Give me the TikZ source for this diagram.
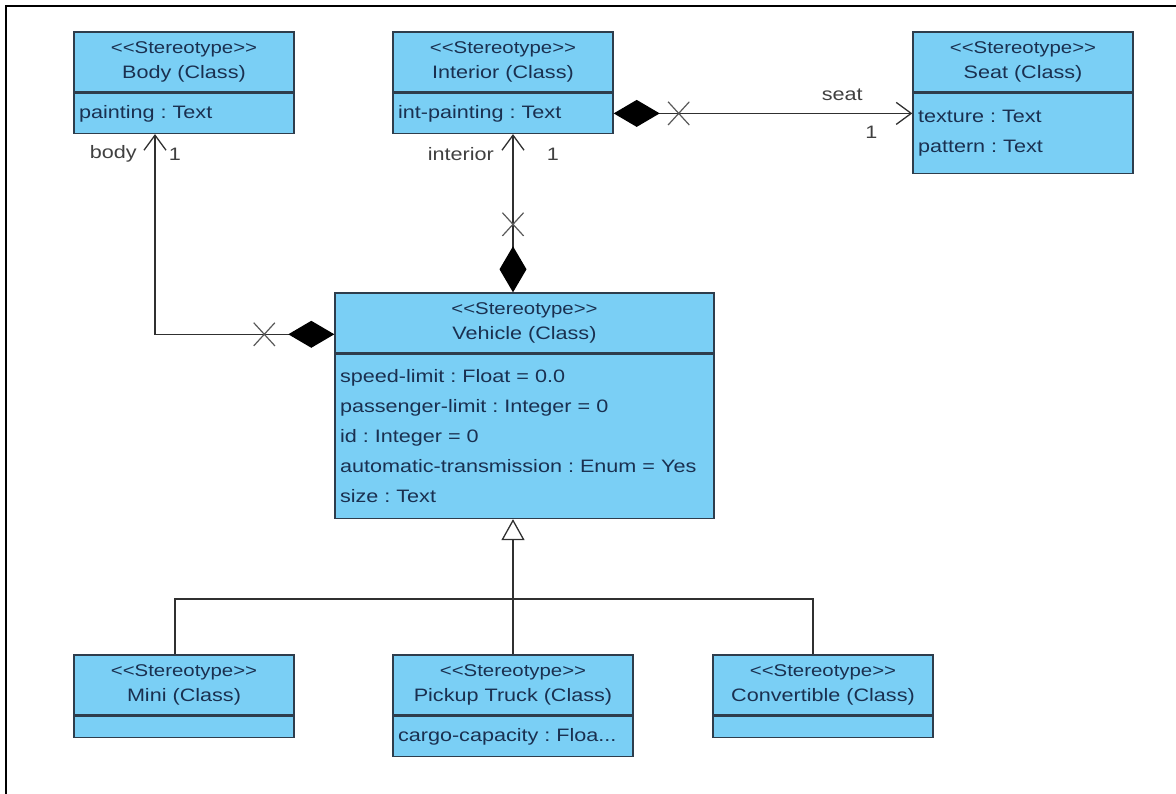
\documentclass[tikz,border=0pt]{standalone}
\usepackage{fontspec}
\setmainfont{Liberation Sans}[FakeStretch=1.2]
\usetikzlibrary{positioning,arrows.meta,shapes.misc}
\definecolor{umlfill}{HTML}{7ACFF5}
\definecolor{umlline}{HTML}{2E3D4C}
\definecolor{umltext}{HTML}{1A3050}
\definecolor{wire}{HTML}{303030}
\newcommand{\stereo}{{\fontsize{17}{25}\selectfont <{}<Stereotype>{}>}\\}

\begin{document}
\frenchspacing
\begin{tikzpicture}[x=1pt, y=-1pt,
    >={Straight Barb[length=15pt, width=22pt, line width=1.3pt]},
    head/.style={draw=umlline, line width=1.4pt, fill=umlfill, align=center, text=umltext,
                 font=\fontsize{18}{25}\selectfont, inner xsep=5pt, inner ysep=0pt,
                 minimum height=60pt, text width=#1},
    head/.default=210pt,
    attrs/.style={draw=umlline, line width=1.4pt, fill=umlfill, align=left, text=umltext,
                  font=\fontsize{18}{30}\selectfont, inner xsep=5pt, inner ysep=0pt,
                  text width=#1},
    attrs/.default=210pt,
    assoc/.style={draw=wire, line width=1.3pt, {Diamond[length=46pt, width=27pt, color=black]}->},
    gen/.style={draw=wire, line width=1.3pt, -{Triangle[open, length=21pt, width=23pt, fill=white]}},
    wire/.style={draw=wire, line width=1.3pt},
    xmark/.style={cross out, draw=gray!70!black, line width=1.2pt, minimum width=20pt,
                  minimum height=22pt, inner sep=0pt},
    lab/.style={font=\fontsize{18}{22}\selectfont, text=black!75, inner sep=0pt},
]
  \useasboundingbox (0,0) rectangle (1176,794);
  \draw[line width=2pt] (6,794) -- (6,6) -- (1176,6);

  % ---------------- parts ----------------
  \node[head] (body) at (184,62) {\stereo Body (Class)};
  \node[attrs, minimum height=40pt, below=0pt of body] (bodyA) {painting : Text};

  \node[head] (interior) at (503,62) {\stereo Interior (Class)};
  \node[attrs, minimum height=40pt, below=0pt of interior] (interiorA) {int-painting : Text};

  \node[head] (seat) at (1023,62) {\stereo Seat (Class)};
  \node[attrs, minimum height=80pt, below=0pt of seat] (seatA) {texture : Text\\pattern : Text};

  % ---------------- vehicle ----------------
  \node[head=369pt] (vehicle) at (524.5,323) {\stereo Vehicle (Class)};
  \node[attrs=369pt, minimum height=164pt, below=0pt of vehicle] (vehicleA)
       {speed-limit : Float = 0.0\\passenger-limit : Integer = 0\\id : Integer = 0\\
        automatic-transmission : Enum = Yes\\size : Text};

  % ---------------- subclasses ----------------
  \node[head] (mini) at (184,685) {\stereo Mini (Class)};
  \node[attrs, minimum height=21pt, below=0pt of mini] (miniA) {};

  \node[head=230pt] (pickup) at (513,685) {\stereo Pickup Truck (Class)};
  \node[attrs=230pt, minimum height=40pt, below=0pt of pickup] (pickupA) {cargo-capacity : Floa...};

  \node[head] (convertible) at (823,685) {\stereo Convertible (Class)};
  \node[attrs, minimum height=21pt, below=0pt of convertible] (convertibleA) {};

  % ---------------- compositions ----------------
  % vehicle -> body
  \coordinate (bodyStart) at ([yshift=-42pt]vehicle.north west);
  \coordinate (bodyEnd) at ([xshift=-29pt]bodyA.south);
  \draw[assoc] (bodyStart) -| (bodyEnd);
  \node[xmark] (bodyX) at ([xshift=-70pt]bodyStart) {};
  \node[lab, anchor=east] at ([xshift=-18pt, yshift=-20pt]bodyEnd) {body};
  \node[lab] at ([xshift=20pt, yshift=-20pt]bodyEnd) {1};

  % vehicle -> interior
  \coordinate (intStart) at ([xshift=-11.5pt]vehicle.north);
  \draw[assoc] (intStart) -- (intStart |- interiorA.south);
  \node[xmark] (intX) at ([yshift=68pt]intStart) {};
  \node[lab, anchor=east] at ([xshift=-19pt, yshift=-20pt]intStart |- interiorA.south) {interior};
  \node[lab] at ([xshift=40pt, yshift=-20pt]intStart |- interiorA.south) {1};

  % interior -> seat
  \coordinate (seatEnd) at (interiorA.east -| seatA.west);
  \draw[assoc] (interiorA.east) -- (seatEnd);
  \node[xmark] (seatX) at ([xshift=65pt]interiorA.east) {};
  \node[lab] at ([xshift=-70pt, yshift=19pt]seatEnd) {seat};
  \node[lab] at ([xshift=-41pt, yshift=-19pt]seatEnd) {1};

  % ---------------- generalization ----------------
  \coordinate (genTop) at ([xshift=-11.5pt]vehicleA.south);
  \coordinate (genJoin) at ([yshift=-80pt]genTop);
  \draw[gen] (genJoin) -- (genTop);
  \draw[wire] ([xshift=-9pt]mini.north) |- (genJoin);
  \draw[wire] (pickup.north) -- (genJoin);
  \draw[wire] ([xshift=-10pt]convertible.north) |- (genJoin);
\end{tikzpicture}
\end{document}
